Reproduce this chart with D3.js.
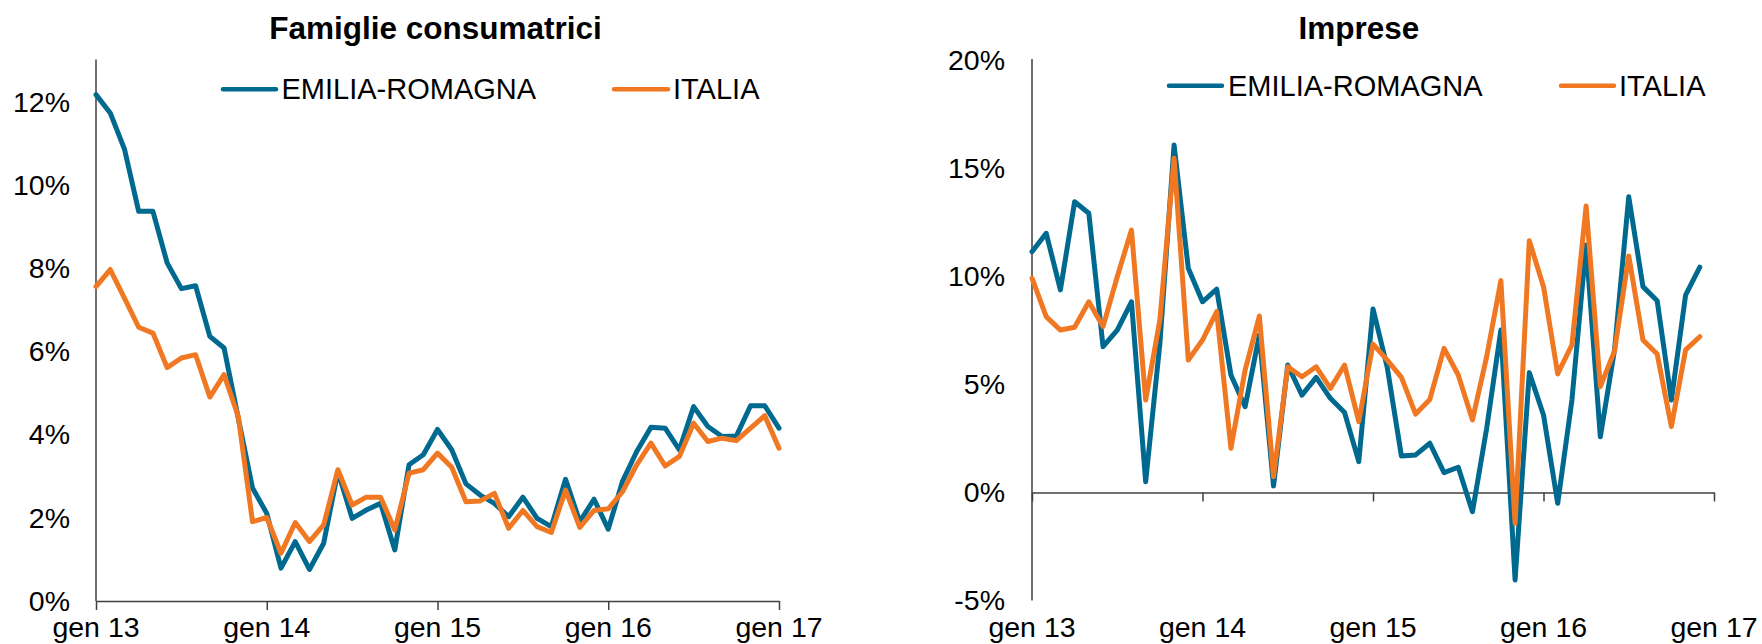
<!DOCTYPE html>
<html>
<head>
<meta charset="utf-8">
<script src="https://cdn.jsdelivr.net/npm/d3@7"></script>
<style>
  html, body { margin: 0; padding: 0; background: #fff; }
  svg { display: block; font-family: "Liberation Sans", Arial, sans-serif; }
</style>
</head>
<body>
<svg id="chart" width="1762" height="644"></svg>
<script>
// ---- DATA ----
const months = [
  "gen 13","feb 13","mar 13","apr 13","mag 13","giu 13","lug 13","ago 13","set 13","ott 13","nov 13","dic 13",
  "gen 14","feb 14","mar 14","apr 14","mag 14","giu 14","lug 14","ago 14","set 14","ott 14","nov 14","dic 14",
  "gen 15","feb 15","mar 15","apr 15","mag 15","giu 15","lug 15","ago 15","set 15","ott 15","nov 15","dic 15",
  "gen 16","feb 16","mar 16","apr 16","mag 16","giu 16","lug 16","ago 16","set 16","ott 16","nov 16","dic 16",
  "gen 17"
];
const xTickLabels = ["gen 13","gen 14","gen 15","gen 16","gen 17"];
const seriesNames = ["EMILIA-ROMAGNA","ITALIA"];

// Famiglie consumatrici (%)
const famiglieER = [12.19, 11.75, 10.88, 9.38, 9.38, 8.14, 7.52, 7.59, 6.37, 6.09, 4.40, 2.72,
  2.11, 0.79, 1.43, 0.76, 1.39, 3.12, 1.99, 2.19, 2.35, 1.23, 3.28, 3.52,
  4.13, 3.64, 2.82, 2.55, 2.35, 2.03, 2.50, 1.99, 1.79, 2.93, 1.91, 2.45,
  1.73, 2.88, 3.60, 4.18, 4.16, 3.64, 4.68, 4.20, 3.96, 3.97, 4.70, 4.70,
  4.16];
const famiglieIT = [7.57, 7.98, 7.29, 6.59, 6.45, 5.62, 5.85, 5.93, 4.91, 5.45, 4.44, 1.91,
  2.01, 1.15, 1.89, 1.43, 1.83, 3.16, 2.31, 2.50, 2.50, 1.71, 3.08, 3.16,
  3.56, 3.22, 2.39, 2.41, 2.59, 1.75, 2.18, 1.79, 1.65, 2.67, 1.77, 2.18,
  2.22, 2.63, 3.28, 3.80, 3.25, 3.48, 4.28, 3.84, 3.92, 3.86, 4.16, 4.46,
  3.68];

// Imprese (%)
const impreseER = [11.15, 12.0, 9.38, 13.46, 12.93, 6.75, 7.52, 8.83, 0.50, 6.9, 16.09, 10.38,
  8.83, 9.41, 5.44, 3.97, 7.29, 0.30, 5.90, 4.51, 5.33, 4.36, 3.70, 1.43,
  8.5, 5.8, 1.69, 1.74, 2.28, 0.92, 1.17, -0.89, 2.97, 7.52, -4.05, 5.55,
  3.59, -0.50, 4.28, 11.46, 2.58, 6.60, 13.69, 9.53, 8.88, 4.28, 9.14, 10.43];
const impreseIT = [9.92, 8.14, 7.52, 7.65, 8.83, 7.68, 9.99, 12.15, 4.28, 7.99, 15.47, 6.13,
  7.06, 8.37, 2.05, 5.67, 8.17, 0.73, 5.82, 5.36, 5.82, 4.82, 5.90, 3.28,
  6.87, 6.13, 5.33, 3.63, 4.31, 6.67, 5.44, 3.36, 6.29, 9.81, -1.43, 11.66,
  9.53, 5.49, 6.83, 13.26, 4.90, 6.56, 10.95, 7.06, 6.41, 3.05, 6.60, 7.21];

const famiglieTicks = [0, 2, 4, 6, 8, 10, 12];
const impreseTicks = [-5, 0, 5, 10, 15, 20];

// ---- STYLE ----
const BLUE = "#00698f";
const ORANGE = "#f07823";
const AXIS = "#404040";

const svg = d3.select("#chart");

function panel(cfg) {
  const g = svg.append("g");
  const x = d3.scalePoint().domain(months).range([cfg.x0, cfg.x1]);
  const y = d3.scaleLinear().domain(cfg.yDomain).range([cfg.yBottom, cfg.yTop]);

  // title
  g.append("text").attr("x", cfg.titleX).attr("y", 39)
    .attr("text-anchor", "middle").attr("font-weight", "bold")
    .attr("font-size", "31.5px").attr("fill", "#000").text(cfg.title);

  // y axis
  const ya = g.append("g").attr("transform", `translate(${cfg.x0},0)`)
    .call(d3.axisLeft(y).tickValues(cfg.yTicks).tickSize(0).tickPadding(cfg.yPad)
      .tickFormat(d => d + "%"));
  ya.select(".domain").attr("stroke", AXIS).attr("stroke-width", 1.5)
    .attr("d", `M0,${cfg.yBottom}V${cfg.yTop - 1.5}`);
  ya.selectAll("text").attr("font-size", "28.5px").attr("fill", "#000")
    .attr("font-family", "Liberation Sans, Arial, sans-serif");

  // x axis (ticks only) at zero
  const zeroY = y(0);
  const xa = g.append("g").attr("transform", `translate(0,${zeroY})`)
    .call(d3.axisBottom(x).tickValues(xTickLabels).tickSizeInner(9).tickSizeOuter(0).tickFormat(""));
  xa.select(".domain").attr("stroke", AXIS).attr("stroke-width", 1.5);
  xa.selectAll(".tick line").attr("stroke", AXIS).attr("stroke-width", 1.5);

  // x tick labels at bottom
  g.selectAll("text.xl").data(xTickLabels).join("text").attr("class", "xl")
    .attr("x", d => x(d)).attr("y", 637).attr("text-anchor", "middle")
    .attr("font-size", "28.5px").attr("fill", "#000").text(d => d);

  // lines
  const line = d3.line().x((d, i) => x(months[i])).y(d => y(d));
  [[cfg.er, BLUE], [cfg.it, ORANGE]].forEach(([vals, col]) => {
    g.append("path").datum(vals).attr("d", line)
      .attr("fill", "none").attr("stroke", col).attr("stroke-width", 5)
      .attr("stroke-linejoin", "round").attr("stroke-linecap", "round");
  });

  // legend
  cfg.legend.forEach((lg, k) => {
    const col = k === 0 ? BLUE : ORANGE;
    g.append("line").attr("x1", lg.lx1).attr("x2", lg.lx2).attr("y1", lg.ly).attr("y2", lg.ly)
      .attr("stroke", col).attr("stroke-width", 4.5).attr("stroke-linecap", "round");
    g.append("text").attr("x", lg.tx).attr("y", lg.ly + 10).attr("font-size", "29px")
      .attr("fill", "#000").text(seriesNames[k]);
  });
}

panel({
  title: "Famiglie consumatrici", titleX: 435.5,
  x0: 96, x1: 779, yTop: 61, yBottom: 601, yDomain: [0, 13], yTicks: famiglieTicks, yPad: 26,
  er: famiglieER, it: famiglieIT,
  legend: [{lx1: 223, lx2: 276, ly: 89.3, tx: 281.5}, {lx1: 614, lx2: 668, ly: 89.3, tx: 673}]
});

panel({
  title: "Imprese", titleX: 1358.8,
  x0: 1032, x1: 1714, yTop: 60.5, yBottom: 600.5, yDomain: [-5, 20], yTicks: impreseTicks, yPad: 27,
  er: impreseER, it: impreseIT,
  legend: [{lx1: 1169, lx2: 1222, ly: 85.7, tx: 1228}, {lx1: 1561, lx2: 1614, ly: 85.7, tx: 1619}]
});
</script>
</body>
</html>
